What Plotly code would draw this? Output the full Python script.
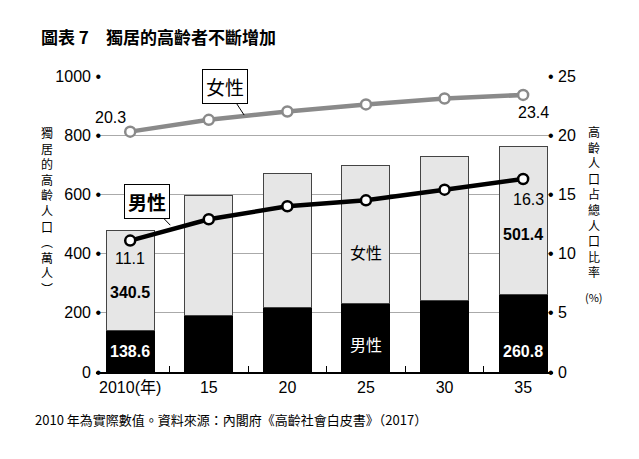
import plotly.graph_objects as go

# 資料
years = ['2010(年)', '15', '20', '25', '30', '35']
male = [138.6, 191, 218, 230, 242, 260.8]          # 男性 (萬人)
female = [340.5, 406, 454, 469, 485, 501.4]        # 女性 (萬人)
male_ratio = [11.1, 12.9, 14.0, 14.5, 15.4, 16.3]  # 男性比率 (%)
female_ratio = [20.3, 21.3, 22.0, 22.6, 23.1, 23.4]  # 女性比率 (%)
left_ticks = [0, 200, 400, 600, 800, 1000]
right_ticks = [0, 5, 10, 15, 20, 25]

W, H = 639, 459
L, R, T, B = 96, 86, 76, 87
PW, PH = W - L - R, H - T - B

FONT = 'Liberation Sans, Noto Sans CJK TC'
CJK = 'Noto Sans CJK TC, Liberation Sans'


def px(x, y):
    # pixel -> paper
    return (x - L) / PW, (H - B - y) / PH


x = list(range(len(years)))

fig = go.Figure()
fig.add_trace(go.Bar(
    x=x, y=male, marker=dict(color='black', line=dict(color='black', width=1)),
    name='男性', showlegend=False))
fig.add_trace(go.Bar(
    x=x, y=female, marker=dict(color='#e6e6e6', line=dict(color='#444', width=1)),
    name='女性', showlegend=False))

fig.add_trace(go.Scatter(
    x=x, y=female_ratio, yaxis='y2', mode='lines+markers',
    line=dict(color='#8a8a8a', width=4.5),
    marker=dict(size=10, color='white', line=dict(color='#8a8a8a', width=2.5)),
    showlegend=False))
fig.add_trace(go.Scatter(
    x=x, y=male_ratio, yaxis='y2', mode='lines+markers',
    line=dict(color='black', width=4.5),
    marker=dict(size=10, color='white', line=dict(color='black', width=2.5)),
    showlegend=False))

ann = []
# 數值標籤
ann.append(dict(x=0, y=female_ratio[0], yref='y2', text=f'{female_ratio[0]}', showarrow=False,
                xshift=-20, yshift=14, font=dict(size=16, color='black')))
ann.append(dict(x=5, y=female_ratio[-1], yref='y2', text=f'{female_ratio[-1]}', showarrow=False,
                xshift=10, yshift=-18, font=dict(size=16, color='black')))
ann.append(dict(x=0, y=male_ratio[0], yref='y2', text=f'{male_ratio[0]}', showarrow=False,
                yshift=-18, font=dict(size=16, color='black')))
ann.append(dict(x=5, y=male_ratio[-1], yref='y2', text=f'{male_ratio[-1]}', showarrow=False,
                xshift=5, yshift=-20, font=dict(size=16, color='black')))

ann.append(dict(x=0, y=270, yref='y', text=f'<b>{female[0]}</b>', showarrow=False,
                font=dict(size=16, color='black')))
ann.append(dict(x=0, y=68, yref='y', text=f'<b>{male[0]}</b>', showarrow=False,
                font=dict(size=16, color='white')))
ann.append(dict(x=5, y=466, yref='y', text=f'<b>{female[-1]}</b>', showarrow=False,
                font=dict(size=16, color='black')))
ann.append(dict(x=5, y=68, yref='y', text=f'<b>{male[-1]}</b>', showarrow=False,
                font=dict(size=16, color='white')))

ann.append(dict(x=3, y=405, yref='y', text='女性', showarrow=False,
                font=dict(size=16, color='black', family=CJK)))
ann.append(dict(x=3, y=95, yref='y', text='男性', showarrow=False,
                font=dict(size=16, color='white', family=CJK)))

# 線的說明框
ann.append(dict(x=1.45, y=21.7, yref='y2', text='女性', showarrow=True, arrowhead=0,
                arrowwidth=1, arrowcolor='black', ax=-19, ay=-29, standoff=0,
                bgcolor='white', bordercolor='black', borderwidth=1, borderpad=3,
                font=dict(size=19, color='black', family=CJK)))
ann.append(dict(x=0.51, y=12.4, yref='y2', text='<b>男性</b>', showarrow=True, arrowhead=0,
                arrowwidth=1, arrowcolor='black', ax=-23, ay=-24, standoff=0,
                bgcolor='white', bordercolor='black', borderwidth=1, borderpad=3,
                font=dict(size=19, color='black', family=CJK)))

# 軸標題 (直書)
left_title = list('獨居的高齡人口') + ['︵', '萬', '人', '︶']
xx, yy = px(47, 211)
ann.append(dict(x=xx, y=yy, xref='paper', yref='paper', text='<br>'.join(left_title),
                showarrow=False, xanchor='center', yanchor='middle',
                font=dict(size=12, color='black', family=CJK)))
right_title = list('高齡人口占總人口比率')
xx, yy = px(594, 201)
ann.append(dict(x=xx, y=yy, xref='paper', yref='paper', text='<br>'.join(right_title),
                showarrow=False, xanchor='center', yanchor='middle',
                font=dict(size=12, color='black', family=CJK)))
xx, yy = px(594, 297)
ann.append(dict(x=xx, y=yy, xref='paper', yref='paper', text='(%)', showarrow=False,
                xanchor='center', yanchor='middle',
                font=dict(size=11, color='black', family=CJK)))

# 註解
xx, yy = px(33, 419)
ann.append(dict(x=xx, y=yy, xref='paper', yref='paper', xanchor='left', yanchor='middle',
                text='2010 年為實際數值。資料來源：內閣府《高齡社會白皮書》（2017）',
                showarrow=False, font=dict(size=13, color='black', family=CJK)))

fig.update_layout(
    width=W, height=H,
    margin=dict(l=L, r=R, t=T, b=B),
    paper_bgcolor='white', plot_bgcolor='white',
    font=dict(family=FONT, size=16, color='black'),
    barmode='stack', bargap=0.39,
    title=dict(text='<b>圖表 7　獨居的高齡者不斷增加</b>', x=41 / W, xanchor='left',
               y=1 - 38 / H, yanchor='middle', font=dict(size=17, family=CJK, color='black')),
    xaxis=dict(tickvals=x, ticktext=years, range=[-0.435, 5.38], showgrid=False,
               zeroline=False, showline=True, linecolor='black', linewidth=2,
               ticks='', tickfont=dict(size=16),
               minor=dict(ticks='inside', tick0=0.5, dtick=1, ticklen=6,
                          tickcolor='black', tickwidth=1, showgrid=False)),
    yaxis=dict(range=[0, 1000], tickvals=left_ticks,
               ticktext=[f'{v} •' for v in left_ticks], showgrid=True,
               gridcolor='#aaaaaa', gridwidth=1, zeroline=False, showline=False,
               ticks='', ticklabelstandoff=-6, tickfont=dict(size=16)),
    yaxis2=dict(range=[0, 25], tickvals=right_ticks,
                ticktext=[f'• {v}' for v in right_ticks], overlaying='y',
                side='right', showgrid=False, zeroline=False, showline=False,
                ticks='', ticklabelstandoff=-6, tickfont=dict(size=16)),
    annotations=ann,
)

fig.write_html('out.html', config={'displayModeBar': False},
               post_script="document.body.style.margin='0';")
